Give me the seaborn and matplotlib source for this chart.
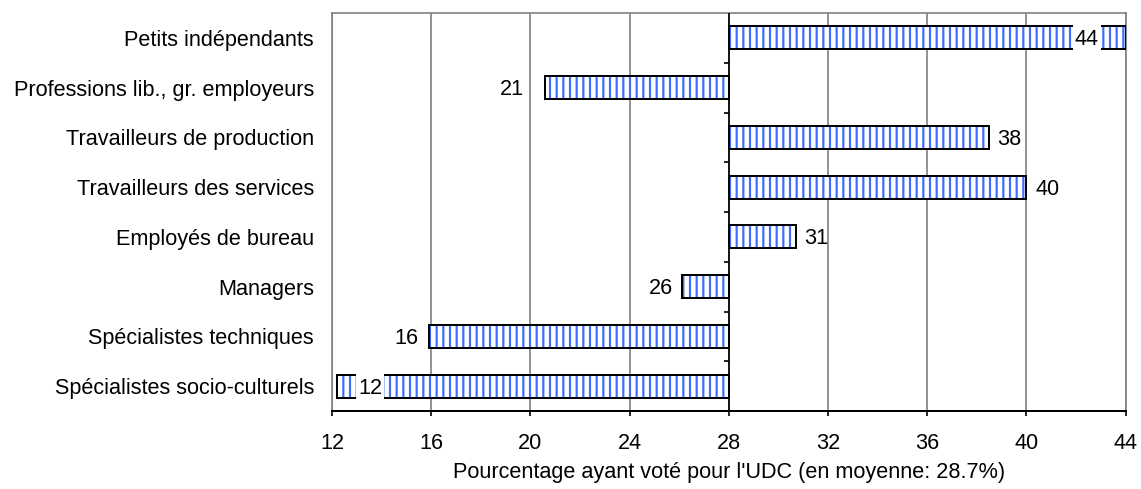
import matplotlib
matplotlib.use("Agg")
import matplotlib.pyplot as plt
from matplotlib.path import Path
import seaborn as sns
import pandas as pd
import numpy as np

# ---------------- data ----------------
categories = [
    "Petits indépendants",
    "Professions lib., gr. employeurs",
    "Travailleurs de production",
    "Travailleurs des services",
    "Employés de bureau",
    "Managers",
    "Spécialistes techniques",
    "Spécialistes socio-culturels",
]
values = [44.0, 20.6, 38.5, 40.0, 30.7, 26.1, 15.9, 12.2]
value_labels = ["44", "21", "38", "40", "31", "26", "16", "12"]
baseline = 28.0
x_ticks = [12, 16, 20, 24, 28, 32, 36, 40, 44]
x_label = "Pourcentage ayant voté pour l'UDC (en moyenne: 28.7%)"

# ---------------- style ----------------
label_offsets_pt = [-16, -13, 5, 5.4, 5, -5.4, -6, 12.6]
label_ha = ["right", "right", "left", "left", "left", "right", "right", "left"]
label_inside = [True, False, False, False, False, False, False, True]
FS = 13
DPI = 120
W, H = 1141, 489

sns.set_theme(style="white")
plt.rcParams["font.family"] = ["Liberation Sans", "DejaVu Sans"]
plt.rcParams["hatch.linewidth"] = 1.3

fig = plt.figure(figsize=(W / DPI, H / DPI), dpi=DPI)
ax = fig.add_axes([332 / W, 1 - 411 / H, (1125.5 - 332) / W, (411 - 13) / H])

df = pd.DataFrame({"cat": categories, "value": values})
df["span"] = df["value"] - baseline

# hatched fill
sns.barplot(data=df, x="span", y="cat", orient="y", left=baseline, width=0.46,
            color="white", saturation=1, edgecolor="#3a6cff", linewidth=0,
            hatch="|||", errorbar=None, ax=ax, zorder=2)
# black outline
sns.barplot(data=df, x="span", y="cat", orient="y", left=baseline, width=0.46,
            color="black", fill=False, edgecolor="black", facecolor="none",
            linewidth=1.2, errorbar=None, ax=ax, zorder=3)

ax.set_xlim(x_ticks[0], x_ticks[-1])
ax.set_ylim(len(categories) - 0.5, -0.5)
ax.set_xticks(x_ticks)
ax.set_xticklabels([str(t) for t in x_ticks])
ax.grid(axis="x", color="#808080", lw=1.0)
ax.grid(axis="y", visible=False)
ax.set_axisbelow(True)

for s in ["top", "left", "right"]:
    ax.spines[s].set_color("#808080")
    ax.spines[s].set_linewidth(1.0)
ax.spines["bottom"].set_color("black")
ax.spines["bottom"].set_linewidth(1.2)

# value axis line at the baseline with small category separators
ax.axvline(baseline, color="black", lw=1.0, zorder=4)
bounds = np.arange(0.5, len(categories) - 0.5, 1.0)
ax.hlines(bounds, baseline - 0.2, baseline, color="black", lw=1.0, zorder=4)

ax.tick_params(axis="x", bottom=True, direction="out", length=3, width=1.0,
               color="black", pad=10, labelsize=FS, labelcolor="black")
ax.tick_params(axis="y", left=False, length=0, pad=10.8, labelsize=FS,
               labelcolor="black")
ax.set_ylabel("")
ax.set_xlabel(x_label, fontsize=FS, color="black", labelpad=5)


def tall_box(x0, y0, width, height, mutation_size):
    px = 0.08 * mutation_size
    py = 0.3 * mutation_size
    x0, y0 = x0 - px, y0 - py
    x1, y1 = x0 + width + 2 * px, y0 + height + 2 * py
    return Path([(x0, y0), (x1, y0), (x1, y1), (x0, y1), (x0, y0)], closed=True)


for i, (v, lbl) in enumerate(zip(values, value_labels)):
    box = dict(boxstyle=tall_box, fc="white", ec="none") if label_inside[i] else None
    ax.annotate(lbl, xy=(v, i), xytext=(label_offsets_pt[i], -1.2),
                textcoords="offset points", ha=label_ha[i], va="center",
                fontsize=FS, color="black", zorder=6, bbox=box)

fig.savefig("out.png", dpi=DPI)
